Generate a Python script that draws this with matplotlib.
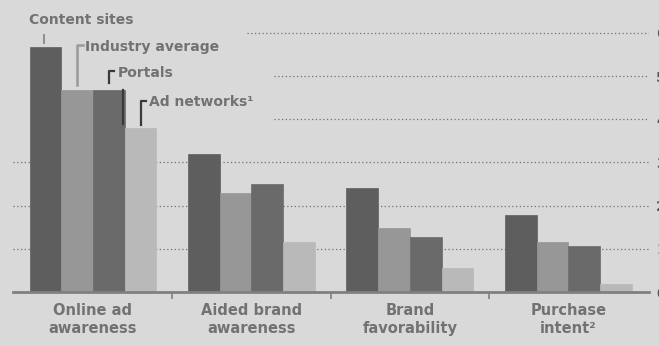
import matplotlib
matplotlib.use("Agg")
import matplotlib.pyplot as plt
import numpy as np

categories = ["Online ad\nawareness", "Aided brand\nawareness", "Brand\nfavorability", "Purchase\nintent\u00b2"]
series_names = ["Content sites", "Industry average", "Portals", "Ad networks\u00b9"]
content_sites = [5.67, 3.19, 2.40, 1.79]
industry_average = [4.67, 2.30, 1.49, 1.16]
portals = [4.67, 2.49, 1.28, 1.07]
ad_networks = [3.79, 1.16, 0.56, 0.19]
yticks = [0, 1, 2, 3, 4, 5, 6]

series = [content_sites, industry_average, portals, ad_networks]
colors = ["#5e5e5e", "#979797", "#6a6a6a", "#b9b9b9"]
bg = "#d9d9d9"
txt = "#727272"

fig = plt.figure(figsize=(6.59, 3.46), dpi=100)
fig.patch.set_facecolor(bg)
ax = fig.add_axes([0.0197, 0.156, 0.9653, 0.844])
ax.set_facecolor(bg)

x = np.arange(len(categories))
w = 0.2
offsets = [-0.3, -0.1, 0.1, 0.3]
for vals, off, c in zip(series, offsets, colors):
    ax.bar(x + off, vals, width=w, color=c, edgecolor=c, linewidth=0.5, zorder=3)

ax.set_xlim(-0.505, 3.51)
ax.set_ylim(0, 6.76)
ax.set_yticks(yticks)
ax.yaxis.tick_right()
ax.tick_params(axis="y", length=0, pad=5, labelsize=10, labelcolor="#555555")
for t in ax.get_yticklabels():
    t.set_fontweight("bold")
grid_start = {1: 0.0, 2: 0.0, 3: 0.0, 4: 0.41, 5: 0.41, 6: 0.368}
for yv in yticks[1:]:
    ax.axhline(yv, xmin=grid_start[yv], xmax=1.0, color="#707070",
               linestyle=(0, (1, 2)), linewidth=0.9, zorder=1)

for s in ["top", "right", "left"]:
    ax.spines[s].set_visible(False)
ax.spines["bottom"].set_color("#808080")
ax.spines["bottom"].set_linewidth(2)
ax.spines["bottom"].set_zorder(4)

ax.set_xticks([0.5, 1.5, 2.5])
ax.set_xticklabels([])
ax.tick_params(axis="x", direction="out", length=5, width=1.2, color="#808080")

for i, lab in enumerate(categories):
    ax.text(i, -0.25, lab, ha="center", va="top", fontsize=10.5, fontweight="bold",
            color=txt, linespacing=1.25)

lblkw = dict(fontsize=10, fontweight="bold", color=txt, va="center", zorder=5)
# Content sites
ax.text(-0.405, 6.30, series_names[0], ha="left", **lblkw)
ax.plot([-0.31, -0.31], [5.76, 5.95], color="#888888", lw=1.3, zorder=5)
# Industry average
ax.text(-0.05, 5.68, series_names[1], ha="left", **lblkw)
ax.plot([-0.06, -0.1, -0.1], [5.72, 5.72, 4.79], color="#9a9a9a", lw=1.8, zorder=5)
# Portals
ax.text(0.155, 5.07, series_names[2], ha="left", **lblkw)
ax.plot([0.135, 0.1, 0.1], [5.12, 5.12, 4.84], color="#3a3a3a", lw=1.6, zorder=5)
ax.plot([0.19, 0.19], [3.89, 4.68], color="#3a3a3a", lw=1.6, zorder=5)
# Ad networks
ax.text(0.355, 4.40, series_names[3], ha="left", **lblkw)
ax.plot([0.335, 0.3, 0.3], [4.42, 4.42, 3.86], color="#3a3a3a", lw=1.6, zorder=5)

fig.savefig("out.png", dpi=100, facecolor=bg)
